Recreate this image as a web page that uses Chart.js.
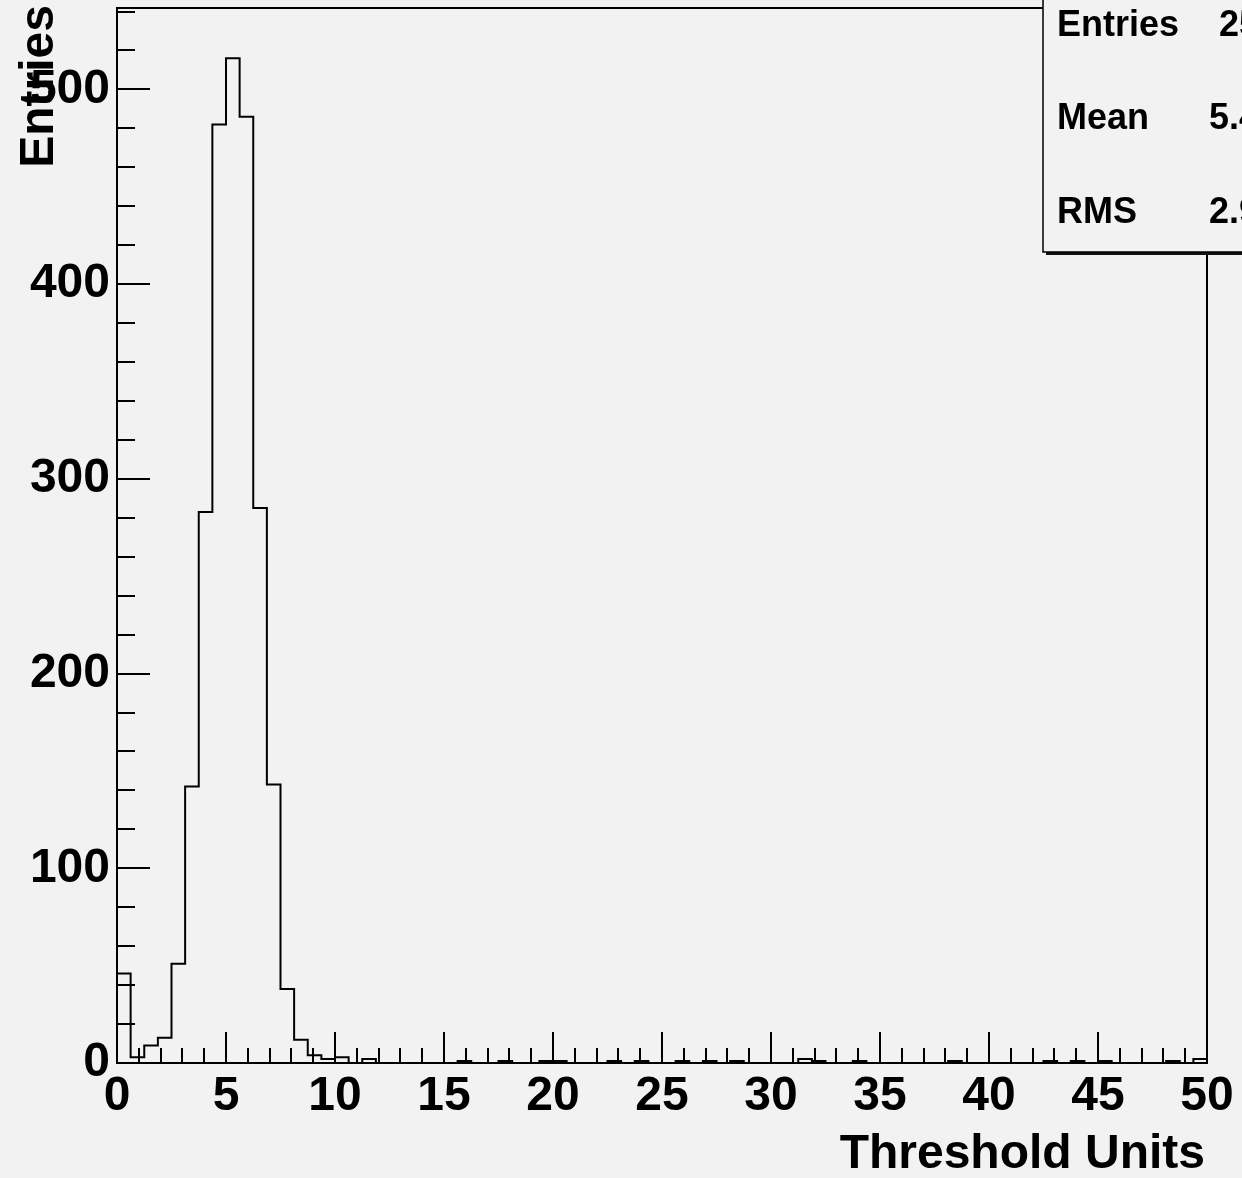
<!DOCTYPE html>
<html>
<head>
<meta charset="utf-8">
<script src="https://cdn.jsdelivr.net/npm/chart.js@4/dist/chart.umd.min.js"></script>
<style>
  html, body { margin: 0; padding: 0; background: #f2f2f2; }
  canvas { display: block; }
</style>
</head>
<body>
<canvas id="hist" width="1242" height="1178"></canvas>
<script>
// histogram: 80 bins from 0 to 50
const xMin = 0
const xMax = 50
const binWidth = 0.625
const counts = [
  46, 3, 9, 13, 51, 142, 283, 482, 516, 486,
  285, 143, 38, 12, 4, 2, 3, 0, 2, 0,
  0, 0, 0, 0, 0, 1, 0, 0, 1, 0,
  0, 1, 1, 0, 0, 0, 1, 0, 1, 0,
  0, 1, 0, 1, 0, 1, 0, 0, 0, 0,
  2, 1, 0, 0, 1, 0, 0, 0, 0, 0,
  0, 1, 0, 0, 0, 0, 0, 0, 1, 0,
  1, 0, 1, 0, 0, 0, 0, 1, 0, 2
]
const yMax = 541.8
const xTickStep = 5
const yTickStep = 100
const statsLabels = ['Entries', 'Mean', 'RMS']
const statsValues = ['2540', '5.466', '2.921']
const xTitle = 'Threshold Units'
const yTitle = 'Entries'

const FONT = '"Liberation Sans", Arial, Helvetica, sans-serif'
const INK = '#000'

// outline points (left edge of each bin; horizontal first, then vertical)
const points = [{ x: xMin, y: 0 }]
counts.forEach((c, i) => points.push({ x: xMin + i * binWidth, y: c }))
points.push({ x: xMax, y: counts[counts.length - 1] })
points.push({ x: xMax, y: 0 })

const rootFrame = {
  id: 'rootFrame',
  beforeDraw (chart) {
    const ctx = chart.ctx
    ctx.save()
    ctx.fillStyle = '#f2f2f2'
    ctx.fillRect(0, 0, chart.width, chart.height)
    ctx.restore()
  },
  afterDraw (chart) {
    const { ctx, chartArea: a, scales } = chart
    const xs = scales.x
    const ys = scales.y
    ctx.save()
    ctx.strokeStyle = INK
    ctx.lineWidth = 2

    // inward ticks on x
    for (let v = xMin; v <= xMax; v += 1) {
      const px = Math.round(xs.getPixelForValue(v))
      const len = v % xTickStep === 0 ? 31 : 15
      ctx.beginPath()
      ctx.moveTo(px, a.bottom)
      ctx.lineTo(px, a.bottom - len)
      ctx.stroke()
    }
    // inward ticks on y
    for (let v = 0; v <= yMax; v += 20) {
      const py = Math.round(ys.getPixelForValue(v))
      const len = v % yTickStep === 0 ? 33 : 18
      ctx.beginPath()
      ctx.moveTo(a.left, py)
      ctx.lineTo(a.left + len, py)
      ctx.stroke()
    }
    ctx.strokeRect(a.left, a.top, a.right - a.left, a.bottom - a.top)

    // axis titles
    ctx.fillStyle = INK
    ctx.font = 'bold 48px ' + FONT
    ctx.textAlign = 'right'
    ctx.textBaseline = 'alphabetic'
    ctx.fillText(xTitle, a.right - 2, 1168)
    ctx.translate(53, 0)
    ctx.rotate(-Math.PI / 2)
    ctx.fillText(yTitle, -5, 0)
    ctx.setTransform(1, 0, 0, 1, 0, 0)

    // stats box
    const bx = 1043
    const by = -4
    const bw = 260
    const bh = 256
    ctx.fillStyle = '#111'
    ctx.fillRect(bx + 3, by + 3, bw, bh)
    ctx.fillStyle = '#f2f2f2'
    ctx.fillRect(bx, by, bw, bh)
    ctx.lineWidth = 1.5
    ctx.strokeRect(bx, by, bw, bh)
    ctx.fillStyle = INK
    ctx.font = 'bold 36px ' + FONT
    const rows = [36, 129, 223]
    statsLabels.forEach((t, i) => {
      ctx.textAlign = 'left'
      ctx.fillText(t, 1057, rows[i])
      ctx.textAlign = 'right'
      ctx.fillText(statsValues[i], 1299, rows[i])
    })
    ctx.restore()
  }
}

const histChart = new Chart(document.getElementById('hist'), {
  type: 'line',
  data: {
    datasets: [{
      data: points,
      stepped: 'before',
      borderColor: INK,
      borderWidth: 2,
      pointRadius: 0,
      fill: false
    }]
  },
  options: {
    responsive: false,
    animation: false,
    devicePixelRatio: 1,
    layout: { padding: { top: 8, right: 35, left: 0, bottom: 0 } },
    plugins: { legend: { display: false }, tooltip: { enabled: false } },
    scales: {
      x: {
        type: 'linear',
        min: xMin,
        max: xMax,
        grid: { display: false },
        border: { display: false },
        ticks: {
          stepSize: xTickStep,
          maxRotation: 0,
          autoSkip: false,
          padding: -3,
          color: INK,
          font: { family: FONT, size: 48, weight: 'bold' }
        },
        afterFit (s) {
          s.height = 115
          s.paddingLeft = 0
          s.paddingRight = 0
        }
      },
      y: {
        min: 0,
        max: yMax,
        grid: { display: false },
        border: { display: false },
        afterBuildTicks (s) {
          s.ticks = s.ticks.filter(t => t.value % yTickStep === 0)
        },
        ticks: {
          stepSize: yTickStep,
          padding: -1,
          color: INK,
          font: { family: FONT, size: 48, weight: 'bold' }
        },
        afterFit (s) {
          s.width = 117
          s.paddingTop = 0
          s.paddingBottom = 0
        }
      }
    }
  },
  plugins: [rootFrame]
})
</script>
</body>
</html>
